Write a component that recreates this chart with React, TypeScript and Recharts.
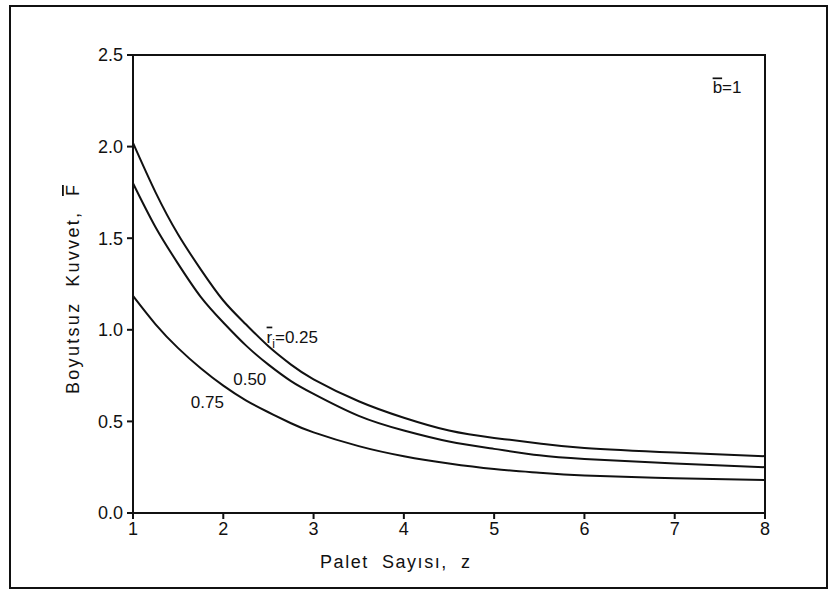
import React from 'react';
import { LineChart, Line, XAxis, YAxis, ReferenceArea, ReferenceDot } from 'recharts';

// palet sayısı z ve boyutsuz kuvvet F
const zValues = [1, 1.25, 1.5, 1.75, 2, 2.25, 2.5, 2.75, 3, 3.5, 4, 4.5, 5, 5.5, 6, 7, 8];
const fR025 = [2.02, 1.75, 1.52, 1.33, 1.16, 1.03, 0.91, 0.81, 0.73, 0.61, 0.52, 0.45, 0.41, 0.38, 0.355, 0.33, 0.31];
const fR050 = [1.8, 1.56, 1.36, 1.18, 1.04, 0.915, 0.81, 0.72, 0.65, 0.53, 0.45, 0.39, 0.35, 0.315, 0.295, 0.27, 0.25];
const fR075 = [1.185, 1.03, 0.9, 0.79, 0.695, 0.615, 0.55, 0.49, 0.44, 0.365, 0.31, 0.27, 0.24, 0.22, 0.205, 0.19, 0.18];

const xTicks = [1, 2, 3, 4, 5, 6, 7, 8];
const yTicks = [0, 0.5, 1, 1.5, 2, 2.5];

const data = zValues.map((z, i) => ({ z, r025: fR025[i], r050: fR050[i], r075: fR075[i] }));

const INK = '#111';
const FONT = "'Liberation Sans', Arial, sans-serif";
const over = { textDecoration: 'overline' } as React.CSSProperties;

const CurveLabel = ({ cx, cy, kind }: any) => {
  if (kind === 'r025') {
    return (
      <text x={cx} y={cy} fontSize={17} fill={INK} fontFamily={FONT}>
        <tspan style={over}>r</tspan>
        <tspan dy={5} fontSize={12}>i</tspan>
        <tspan dy={-5}>=0.25</tspan>
      </text>
    );
  }
  return (
    <text x={cx} y={cy} fontSize={17} fill={INK} fontFamily={FONT}>
      {kind === 'r050' ? '0.50' : '0.75'}
    </text>
  );
};

const App: React.FC = () => {
  return (
    <div style={{ position: 'absolute', left: 0, top: 0, width: 834, height: 592, background: '#fff', fontFamily: FONT }}>
      <div
        style={{
          position: 'absolute', left: 9, top: 5, width: 819, height: 584,
          border: `2px solid ${INK}`, boxSizing: 'border-box',
        }}
      />
      <div style={{ position: 'absolute', left: 0, top: 0 }}>
        <LineChart width={834} height={592} data={data} margin={{ top: 55, right: 69, bottom: 49, left: 0 }}>
          <XAxis
            dataKey="z"
            type="number"
            domain={[1, 8]}
            ticks={xTicks}
            height={30}
            tickSize={6}
            tickMargin={3}
            stroke={INK}
            strokeWidth={2}
            tick={{ fill: INK, fontSize: 18, fontFamily: FONT }}
          />
          <YAxis
            type="number"
            domain={[0, 2.5]}
            ticks={yTicks}
            width={133}
            tickSize={6}
            tickMargin={4}
            stroke={INK}
            strokeWidth={2}
            tickFormatter={(v: number) => v.toFixed(1)}
            tick={{ fill: INK, fontSize: 18, fontFamily: FONT }}
          />
          <ReferenceArea x1={1} x2={8} y1={0} y2={2.5} fill="none" fillOpacity={0} stroke={INK} strokeWidth={2} />
          <Line type="natural" dataKey="r025" stroke={INK} strokeWidth={2} dot={false} isAnimationActive={false} />
          <Line type="natural" dataKey="r050" stroke={INK} strokeWidth={2} dot={false} isAnimationActive={false} />
          <Line type="natural" dataKey="r075" stroke={INK} strokeWidth={2} dot={false} isAnimationActive={false} />
          <ReferenceDot x={2.48} y={0.93} r={0} shape={(p: any) => <CurveLabel {...p} kind="r025" />} />
          <ReferenceDot x={2.11} y={0.7} r={0} shape={(p: any) => <CurveLabel {...p} kind="r050" />} />
          <ReferenceDot x={1.64} y={0.573} r={0} shape={(p: any) => <CurveLabel {...p} kind="r075" />} />
          <ReferenceDot
            x={7.42}
            y={2.29}
            r={0}
            shape={(p: any) => (
              <text x={p.cx} y={p.cy} fontSize={17} fill={INK} fontFamily={FONT}>
                <tspan style={over}>b</tspan>=1
              </text>
            )}
          />
        </LineChart>
      </div>
      <svg width={834} height={592} style={{ position: 'absolute', left: 0, top: 0, pointerEvents: 'none' }}>
        <text x={320} y={568} fontSize={18} fill={INK} fontFamily={FONT} textLength={150} lengthAdjust="spacing" style={{ whiteSpace: 'pre' }}>
          Palet  Sayısı,  z
        </text>
        <text
          x={79}
          y={394}
          fontSize={18}
          fill={INK}
          fontFamily={FONT}
          transform="rotate(-90 79 394)"
          textLength={209}
          lengthAdjust="spacing"
          style={{ whiteSpace: 'pre' }}
        >
          Boyutsuz  Kuvvet,  <tspan style={over}>F</tspan>
        </text>
      </svg>
    </div>
  );
};

export default App;
